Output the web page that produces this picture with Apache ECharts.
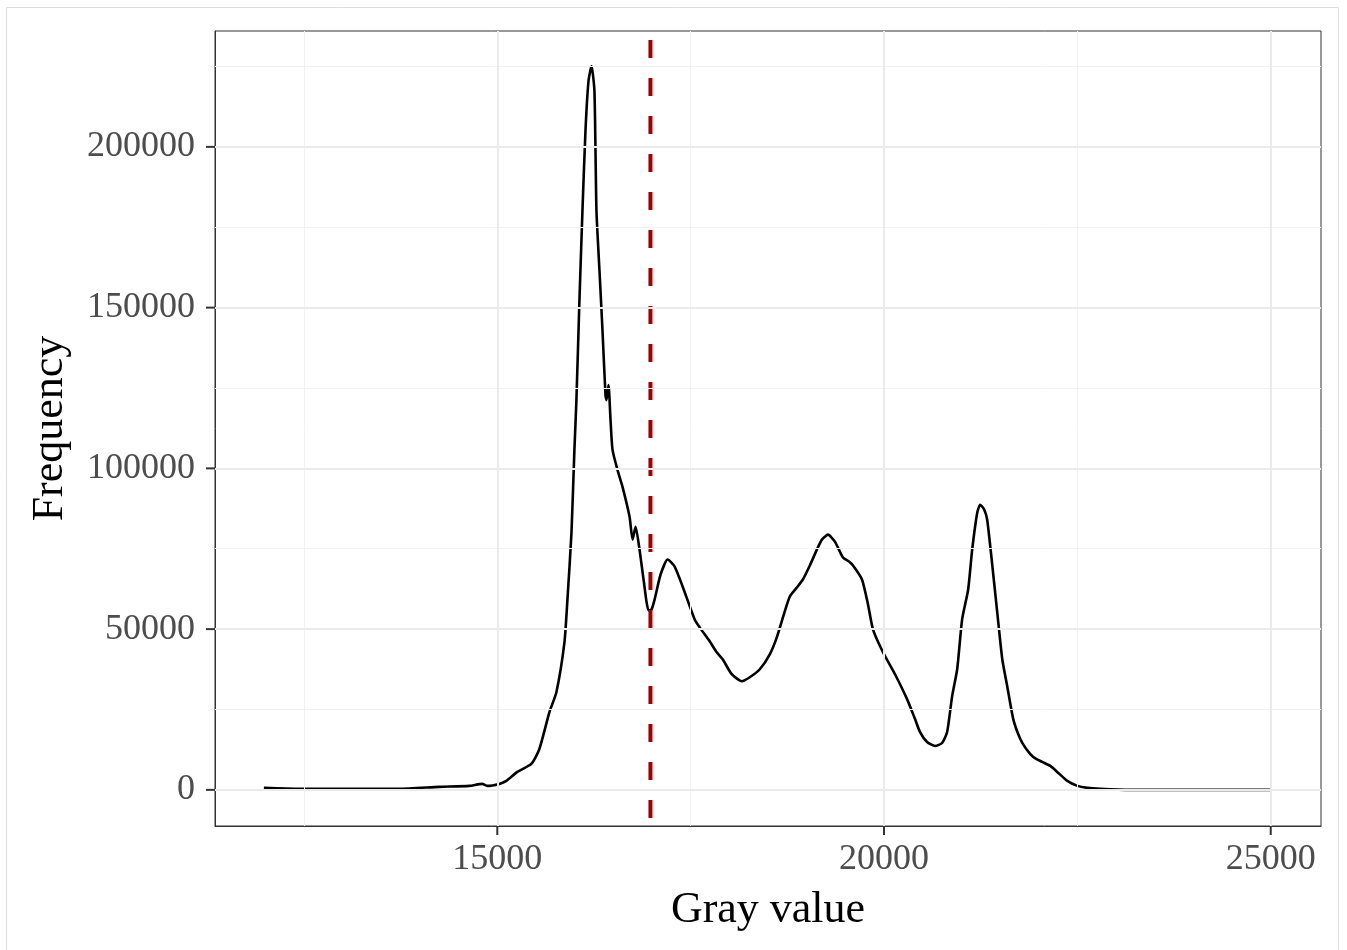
<!DOCTYPE html>
<html><head><meta charset="utf-8">
<script src="https://cdn.jsdelivr.net/npm/echarts@6/dist/echarts.min.js"></script>
<style>html,body{margin:0;padding:0;background:#fff}#c{width:1347px;height:950px}</style>
</head><body><div id="c"></div>
<script>
const grayValues = [11982,12435,13083,13731,14249,14637,14806,14870,15026,15117,15259,15440,15544,15674,15764,15868,15907,15959,15997,16023,16062,16101,16140,16179,16218,16256,16282,16321,16360,16399,16412,16438,16464,16490,16554,16619,16710,16749,16788,16839,16891,16956,16995,17034,17111,17202,17293,17396,17552,17617,17746,17837,17914,18031,18161,18264,18394,18523,18614,18705,18782,18873,18951,19041,19132,19197,19275,19365,19469,19547,19599,19715,19793,19857,19987,20142,20298,20401,20466,20557,20660,20751,20816,20881,20946,21010,21088,21140,21205,21244,21296,21334,21399,21464,21529,21593,21671,21762,21839,21930,22046,22150,22254,22370,22500,22629,22798,23186,24093,25000];
const frequencies = [620,310,310,310,930,1240,1860,1240,1860,2790,5580,8060,12710,24190,30390,45890,59230,80000,105740,121240,152250,180160,204960,220470,225120,217370,180160,161550,142950,122790,121240,125890,115040,105740,99540,94260,84960,77830,81860,74730,65430,55810,56120,59230,66980,71630,69460,63260,53020,50540,46200,42790,40620,35970,33800,35040,37520,42170,47440,54570,60160,62950,65430,69770,74730,77830,79380,77210,72250,71010,69770,65430,57670,49920,42790,35970,28220,22020,17980,14880,13640,14570,17980,29150,37520,53020,62330,74730,86200,88680,87130,84030,70080,55190,40620,32250,22020,15810,12710,10230,8680,7440,5270,2790,1240,620,310,0,0,0];
const threshold = 16980;
const xTicks = [15000, 20000, 25000];
const xMinor = [12500, 17500, 22500];
const yTicks = [0, 50000, 100000, 150000, 200000];
const yMinor = [25000, 75000, 125000, 175000, 225000];
const xRange = [11350, 25650];
const yRange = [-11240, 236040];

const FONT = 'Liberation Serif, Times New Roman, serif';
const curve = grayValues.map((g, i) => [g, frequencies[i]]);

const gridLines = [];
xMinor.forEach(v => gridLines.push({xAxis: v, lineStyle: {color: '#f2f2f2', width: 1, type: 'solid'}}));
yMinor.forEach(v => gridLines.push({yAxis: v, lineStyle: {color: '#f2f2f2', width: 1, type: 'solid'}}));
xTicks.forEach(v => gridLines.push({xAxis: v, lineStyle: {color: '#ebebeb', width: 2, type: 'solid'}}));
yTicks.forEach(v => gridLines.push({yAxis: v, lineStyle: {color: '#ebebeb', width: 2, type: 'solid'}}));

const tickData = xTicks.map(v => [v, yRange[0], 0]).concat(yTicks.map(v => [xRange[0], v, 1]));

const chart = echarts.init(document.getElementById('c'), null, {renderer: 'canvas'});
chart.setOption({
  animation: false,
  backgroundColor: '#ffffff',
  graphic: [{
    type: 'rect', shape: {x: 6.5, y: 7.5, width: 1332, height: 960},
    style: {fill: 'none', stroke: '#dddddd', lineWidth: 1}, z: -10, silent: true
  }],
  grid: {left: 215, top: 31, right: 26, bottom: 124, show: true, borderColor: '#333333', borderWidth: 1, backgroundColor: 'transparent'},
  xAxis: {
    type: 'value', min: xRange[0], max: xRange[1],
    name: 'Gray value', nameLocation: 'middle', nameGap: 62,
    nameTextStyle: {fontFamily: FONT, fontSize: 44, color: '#000'},
    axisLine: {show: true, onZero: false, lineStyle: {color: '#333', width: 1}},
    axisTick: {show: false},
    axisLabel: {customValues: xTicks, fontFamily: FONT, fontSize: 36, color: '#4d4d4d', margin: 16, formatter: v => String(v)},
    splitLine: {show: false}
  },
  yAxis: {
    type: 'value', min: yRange[0], max: yRange[1],
    name: 'Frequency', nameLocation: 'middle', nameGap: 143, nameRotate: 90,
    nameTextStyle: {fontFamily: FONT, fontSize: 44, color: '#000'},
    axisLine: {show: true, onZero: false, lineStyle: {color: '#333', width: 1}},
    axisTick: {show: false},
    axisLabel: {customValues: yTicks, fontFamily: FONT, fontSize: 36, color: '#4d4d4d', margin: 20, formatter: v => String(v)},
    splitLine: {show: false}
  },
  series: [
    {
      type: 'line', data: [], z: 1, silent: true,
      markLine: {silent: true, symbol: 'none', label: {show: false}, animation: false, data: gridLines}
    },
    {
      type: 'line', data: curve, showSymbol: false, smooth: 0.2, z: 3, silent: true,
      lineStyle: {color: '#000000', width: 2.6}
    },
    {
      type: 'line', data: [[threshold, yRange[1]], [threshold, yRange[0]]], showSymbol: false, z: 4, silent: true,
      lineStyle: {color: '#a00000', width: 4, type: [18, 20], dashOffset: 29}
    },
    {
      type: 'custom', data: tickData, clip: false, silent: true, z: 6,
      renderItem: function (params, api) {
        const p = api.coord([api.value(0), api.value(1)]);
        const vertical = api.value(2) === 0;
        return {
          type: 'line',
          shape: vertical ? {x1: p[0], y1: p[1], x2: p[0], y2: p[1] + 9} : {x1: p[0], y1: p[1], x2: p[0] - 9, y2: p[1]},
          style: {stroke: '#333333', lineWidth: 2}
        };
      }
    }
  ]
});
</script>
</body></html>
